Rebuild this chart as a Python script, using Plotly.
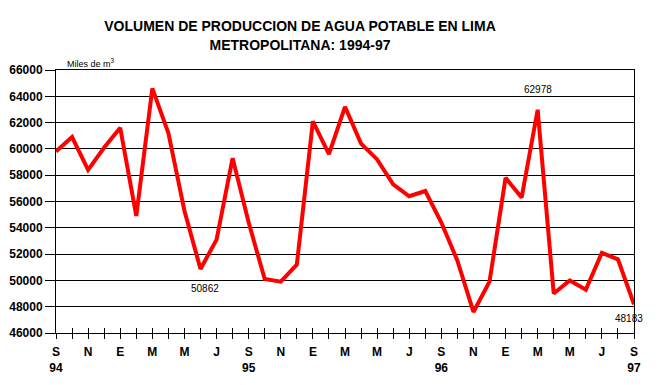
import plotly.graph_objects as go

# Monthly values, Sep 1994 .. Sep 1997 (miles de m3)
months = ["S", "O", "N", "D", "E", "F", "M", "A", "M", "J", "J", "A"] * 3 + ["S"]
years = {0: "94", 12: "95", 24: "96", 36: "97"}
values = [59800, 60900, 58400, 60100, 61600, 54900, 64600, 61200, 55300, 50862,
          53100, 59300, 54400, 50100, 49900, 51200, 62100, 59600, 63200, 60400,
          59200, 57300, 56400, 56800, 54400, 51500, 47600, 49900, 57800, 56300,
          62978, 49000, 50000, 49300, 52100, 51600, 48183]
labeled_points = {9: ("50862", "below"), 30: ("62978", "above"), 36: ("48183", "below")}

x = list(range(len(values)))
tickvals = [i for i in x if i % 2 == 0]
ticktext = [months[i] + ("<br>" + years[i] if i in years else "") for i in tickvals]

font_family = "Liberation Sans, Arial, sans-serif"

fig = go.Figure()
fig.add_trace(go.Scatter(x=x, y=values, mode="lines",
                         line=dict(color="#ff0000", width=4), hoverinfo="skip",
                         showlegend=False))
# invisible trace on overlay axis for inside ticks
fig.add_trace(go.Scatter(x=x, y=values, mode="lines", line=dict(width=0),
                         xaxis="x2", showlegend=False, hoverinfo="skip", opacity=0))

label_shift = {9: (4, -19), 30: (0, 20), 36: (-5, -14)}
for i, (txt, pos) in labeled_points.items():
    dx, dy = label_shift[i]
    fig.add_annotation(x=i, y=values[i], text=txt, showarrow=False,
                       yshift=dy, xshift=dx,
                       font=dict(family=font_family, size=10, color="black"))

fig.add_annotation(xref="paper", yref="paper", x=0.015, y=1.027, xanchor="left",
                   yanchor="middle", text="Miles de m<sup>3</sup>", showarrow=False,
                   font=dict(family=font_family, size=9, color="black"))

fig.update_layout(
    width=654, height=377,
    margin=dict(l=48, r=28, t=62, b=52, autoexpand=False),
    paper_bgcolor="white", plot_bgcolor="white",
    title=dict(text="VOLUMEN DE PRODUCCION DE AGUA POTABLE EN LIMA<br>METROPOLITANA: 1994-97",
               x=0.4465, xanchor="center", y=0.9377, yanchor="middle",
               font=dict(family=font_family, size=14, color="black", weight="bold")),
    xaxis=dict(range=[0, 36], tickvals=tickvals, ticktext=ticktext, automargin=False,
               ticks="outside", ticklen=5, tickcolor="black", tickwidth=1,
               ticklabelstandoff=3,
               minor=dict(tickvals=x, ticks="outside", ticklen=5, tickcolor="black"),
               showline=True, linecolor="black", linewidth=1, mirror=True,
               showgrid=False, zeroline=False,
               tickfont=dict(family=font_family, size=12, color="black", weight="bold")),
    xaxis2=dict(range=[0, 36], overlaying="x", side="bottom", tickvals=x, automargin=False,
                ticks="inside", ticklen=5, tickcolor="black", showticklabels=False,
                showgrid=False, zeroline=False, showline=False),
    yaxis=dict(range=[46000, 66000], dtick=2000, tickformat="d", automargin=False,
               ticks="outside", ticklen=10, tickcolor="black",
               showgrid=True, gridcolor="black", gridwidth=1,
               showline=True, linecolor="black", linewidth=1, mirror=True,
               zeroline=False,
               tickfont=dict(family=font_family, size=12, color="black", weight="bold")),
)

fig.write_html("out.html")
